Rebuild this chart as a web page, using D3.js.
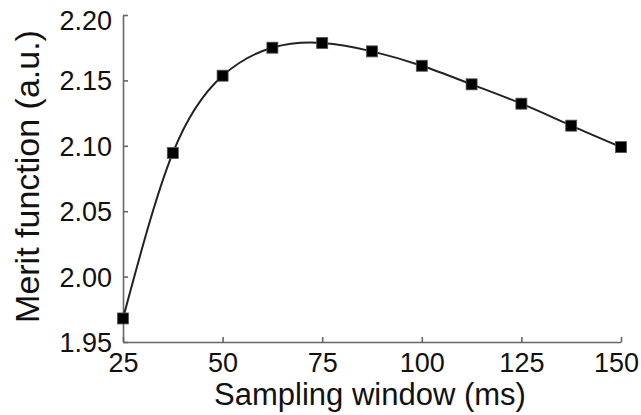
<!DOCTYPE html>
<html>
<head>
<meta charset="utf-8">
<script src="https://cdn.jsdelivr.net/npm/d3@7"></script>
<style>
  body { margin: 0; background: #fff; }
  text { font-family: "Liberation Sans", Arial, sans-serif; fill: #111; }
</style>
</head>
<body>
<div id="chart"></div>
<script>
// datos
const windowMs = [25, 37.5, 50, 62.5, 75, 87.5, 100, 112.5, 125, 137.5, 150];
const merit = [1.968, 2.0945, 2.1536, 2.175, 2.1786, 2.1722, 2.1612, 2.147, 2.1322, 2.1154, 2.0990];
const xTicks = [25, 50, 75, 100, 125, 150];
const yTicks = [1.95, 2.00, 2.05, 2.10, 2.15, 2.20];

const width = 641, height = 415;
const margin = { top: 15, right: 20, bottom: 73, left: 123 };

const svg = d3.select("#chart").append("svg")
    .attr("width", width)
    .attr("height", height);

// Escalas
const x = d3.scaleLinear().domain([25, 150]).range([margin.left, width - margin.right]);
const y = d3.scaleLinear().domain([1.95, 2.20]).range([height - margin.bottom, margin.top]);

const data = windowMs.map((d, i) => ({ x: d, y: merit[i] }));

// Ejes (ticks hacia dentro)
const xAxis = svg.append("g")
    .attr("transform", `translate(0,${y(1.95)})`)
    .call(d3.axisBottom(x).tickValues(xTicks).tickSize(-5).tickSizeOuter(0).tickPadding(11));

const yAxis = svg.append("g")
    .attr("transform", `translate(${x(25)},0)`)
    .call(d3.axisLeft(y).tickValues(yTicks).tickSize(-5).tickSizeOuter(0).tickPadding(11)
        .tickFormat(d3.format(".2f")));

svg.selectAll(".domain, .tick line")
    .attr("stroke", "#666")
    .attr("stroke-width", 1.6);

xAxis.selectAll("text")
    .style("font-size", "27px")
    .attr("dy", "0.71em")
    .attr("dx", d => d === 150 ? -5 : 0);

yAxis.selectAll("text")
    .style("font-size", "27px")
    .attr("dy", d => d === 2.20 ? "0.52em" : "0.35em");

// Curva suave
const line = d3.line()
    .x(d => x(d.x))
    .y(d => y(d.y))
    .curve(d3.curveNatural);

svg.append("path")
    .datum(data)
    .attr("fill", "none")
    .attr("stroke", "#222")
    .attr("stroke-width", 2)
    .attr("d", line);

// Marcadores cuadrados
const s = 11;
svg.selectAll("rect.pt")
    .data(data)
    .enter()
    .append("rect")
    .attr("class", "pt")
    .attr("x", d => x(d.x) - s / 2)
    .attr("y", d => y(d.y) - s / 2)
    .attr("width", s)
    .attr("height", s)
    .attr("fill", "#000")
    .attr("stroke", "#555")
    .attr("stroke-width", 0.8);

// Titulos
svg.append("text")
    .attr("x", (x(25) + x(150)) / 2 - 2)
    .attr("y", 405)
    .attr("text-anchor", "middle")
    .style("font-size", "31px")
    .text("Sampling window (ms)");

svg.append("text")
    .attr("transform", `translate(39,${(y(1.95) + y(2.20)) / 2 - 2}) rotate(-90)`)
    .attr("text-anchor", "middle")
    .style("font-size", "34px")
    .text("Merit function (a.u.)");
</script>
</body>
</html>
